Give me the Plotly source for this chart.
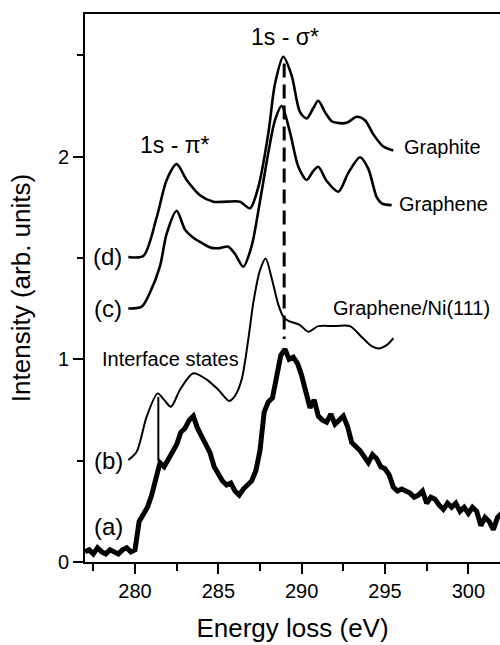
import plotly.graph_objects as go

# (a) measured spectrum (noisy)
a_x = [277.00, 277.25, 277.50, 277.75, 278.00, 278.25, 278.50, 278.75, 279.00, 279.25,
       279.50, 279.75, 280.00, 280.25, 280.50, 280.75, 281.00, 281.25, 281.50, 281.75,
       282.00, 282.25, 282.50, 282.75, 283.00, 283.25, 283.50, 283.75, 284.00, 284.25,
       284.50, 284.75, 285.00, 285.25, 285.50, 285.75, 286.00, 286.25, 286.50, 286.75,
       287.00, 287.25, 287.50, 287.75, 288.00, 288.25, 288.50, 288.75, 289.00, 289.25,
       289.50, 289.75, 290.00, 290.25, 290.50, 290.75, 291.00, 291.25, 291.50, 291.75,
       292.00, 292.25, 292.50, 292.75, 293.00, 293.25, 293.50, 293.75, 294.00, 294.25,
       294.50, 294.75, 295.00, 295.25, 295.50, 295.75, 296.00, 296.25, 296.50, 296.75,
       297.00, 297.25, 297.50, 297.75, 298.00, 298.25, 298.50, 298.75, 299.00, 299.25,
       299.50, 299.75, 300.00, 300.25, 300.50, 300.75, 301.00, 301.25, 301.50, 301.75,
       302.00]
a_y = [0.05, 0.06, 0.04, 0.07, 0.05, 0.04, 0.06, 0.05, 0.04, 0.06,
       0.07, 0.05, 0.06, 0.20, 0.23, 0.27, 0.33, 0.40, 0.49, 0.47,
       0.51, 0.55, 0.58, 0.64, 0.66, 0.70, 0.72, 0.66, 0.62, 0.58,
       0.54, 0.47, 0.43, 0.40, 0.38, 0.39, 0.35, 0.33, 0.36, 0.38,
       0.40, 0.45, 0.55, 0.74, 0.79, 0.81, 0.93, 1.02, 1.05, 1.00,
       1.01, 0.98, 0.92, 0.83, 0.76, 0.80, 0.72, 0.70, 0.69, 0.73,
       0.68, 0.70, 0.72, 0.67, 0.59, 0.57, 0.55, 0.52, 0.49, 0.53,
       0.51, 0.47, 0.46, 0.43, 0.37, 0.35, 0.36, 0.35, 0.34, 0.32,
       0.33, 0.35, 0.29, 0.32, 0.31, 0.28, 0.26, 0.29, 0.27, 0.29,
       0.25, 0.27, 0.24, 0.27, 0.25, 0.18, 0.22, 0.20, 0.16, 0.22,
       0.24]

# (b) Graphene/Ni(111)
b_x = [279.6, 280.1, 280.7, 281.36, 281.75, 282.16, 282.7, 283.5, 284.3, 285.0,
       285.65, 286.0, 286.4, 286.8, 287.1, 287.5, 287.84, 288.2, 288.6, 288.9,
       289.2, 289.9, 290.4, 291.0, 292.0, 292.9, 293.6, 294.2, 294.6, 295.1, 295.5]
b_y = [0.503, 0.544, 0.717, 0.832, 0.80, 0.766, 0.85, 0.931, 0.90, 0.85,
       0.795, 0.82, 0.90, 1.10, 1.28, 1.44, 1.498, 1.40, 1.27, 1.21,
       1.19, 1.169, 1.136, 1.164, 1.164, 1.164, 1.11, 1.065, 1.054, 1.07, 1.104]

# (c) Graphene
c_x = [279.6, 280.4, 280.9, 281.5, 281.9, 282.5, 283.0, 283.5, 284.0, 284.6,
       285.1, 285.6, 286.0, 286.5, 287.0, 287.5, 288.0, 288.4, 288.8, 289.3,
       289.8, 290.3, 290.7, 291.0, 291.5, 292.2, 292.8, 293.5, 294.0, 294.5,
       294.8, 295.4]
c_y = [1.251, 1.26, 1.33, 1.46, 1.62, 1.733, 1.64, 1.60, 1.575, 1.55,
       1.549, 1.556, 1.52, 1.457, 1.56, 1.78, 2.02, 2.18, 2.25, 2.12,
       1.95, 1.885, 1.93, 1.95, 1.88, 1.827, 1.92, 1.997, 1.94, 1.80,
       1.77, 1.761]

# (d) Graphite
d_x = [279.6, 280.5, 281.3, 281.9, 282.5, 283.1, 283.9, 284.7, 285.5, 286.3,
       286.9, 287.4, 288.0, 288.4, 288.9, 289.4, 289.9, 290.3, 290.7, 291.0,
       291.4, 291.8, 292.1, 292.7, 293.3, 293.8, 294.3, 294.9, 295.5]
d_y = [1.505, 1.51, 1.70, 1.885, 1.963, 1.885, 1.81, 1.778, 1.778, 1.778,
       1.745, 1.85, 2.115, 2.36, 2.493, 2.40, 2.22, 2.189, 2.24, 2.276,
       2.22, 2.175, 2.167, 2.167, 2.197, 2.18, 2.11, 2.05, 2.03]

sigma_x = 288.95
interface_x = 281.4

fig = go.Figure()
fig.add_trace(go.Scatter(x=a_x, y=a_y, mode="lines",
                         line=dict(color="black", width=5)))
fig.add_trace(go.Scatter(x=b_x, y=b_y, mode="lines",
                         line=dict(color="black", width=2, shape="spline", smoothing=0.8)))
fig.add_trace(go.Scatter(x=c_x, y=c_y, mode="lines",
                         line=dict(color="black", width=2.6, shape="spline", smoothing=0.8)))
fig.add_trace(go.Scatter(x=d_x, y=d_y, mode="lines",
                         line=dict(color="black", width=2.6, shape="spline", smoothing=0.8)))

# dashed sigma* marker and interface-state marker
fig.add_trace(go.Scatter(x=[sigma_x, sigma_x], y=[2.46, 1.10], mode="lines",
                         line=dict(color="black", width=3, dash="14px,7px")))
fig.add_trace(go.Scatter(x=[interface_x, interface_x], y=[0.50, 0.815], mode="lines",
                         line=dict(color="black", width=2)))

font = "Liberation Sans, Arial, sans-serif"
ann = [
    dict(x=282.4, y=2.057, text="1s - π*", size=23),
    dict(x=289.0, y=2.59, text="1s - σ*", size=23),
    dict(x=298.45, y=2.046, text="Graphite", size=20),
    dict(x=298.5, y=1.766, text="Graphene", size=20),
    dict(x=296.6, y=1.253, text="Graphene/Ni(111)", size=20),
    dict(x=282.1, y=1.0, text="Interface states", size=20),
    dict(x=278.35, y=1.505, text="(d)", size=24),
    dict(x=278.35, y=1.253, text="(c)", size=24),
    dict(x=278.4, y=0.503, text="(b)", size=24),
    dict(x=278.4, y=0.174, text="(a)", size=24),
]
for a in ann:
    fig.add_annotation(x=a["x"], y=a["y"], text=a["text"], showarrow=False,
                       xref="x", yref="y", xanchor="center", yanchor="middle",
                       font=dict(family=font, size=a["size"], color="black"))

fig.update_layout(
    width=500, height=645,
    margin=dict(l=85, r=0, t=14, b=83),
    paper_bgcolor="white", plot_bgcolor="white",
    showlegend=False,
    font=dict(family=font, color="black"),
)
fig.update_xaxes(
    range=[277.0, 301.9], tickvals=[280, 285, 290, 295, 300],
    ticks="outside", ticklen=10, tickwidth=2, tickcolor="black",
    showline=True, linewidth=2, linecolor="black", mirror=True,
    showgrid=False, zeroline=False,
    tickfont=dict(size=20, family=font),
    minor=dict(tickvals=[277.5, 282.5, 287.5, 292.5, 297.5], ticks="outside",
               ticklen=7, tickwidth=2, tickcolor="black", showgrid=False),
    title=dict(text="Energy loss (eV)", font=dict(size=26, family=font), standoff=18),
)
fig.update_yaxes(
    range=[0, 2.704], tickvals=[0, 1, 2],
    ticks="outside", ticklen=10, tickwidth=2, tickcolor="black",
    showline=True, linewidth=2, linecolor="black", mirror=False,
    showgrid=False, zeroline=False,
    tickfont=dict(size=20, family=font),
    minor=dict(tickvals=[0.5, 1.5, 2.5], ticks="outside",
               ticklen=6, tickwidth=2, tickcolor="black", showgrid=False),
    title=dict(text="Intensity (arb. units)", font=dict(size=26, family=font), standoff=20),
)
fig.write_html("out.html")
